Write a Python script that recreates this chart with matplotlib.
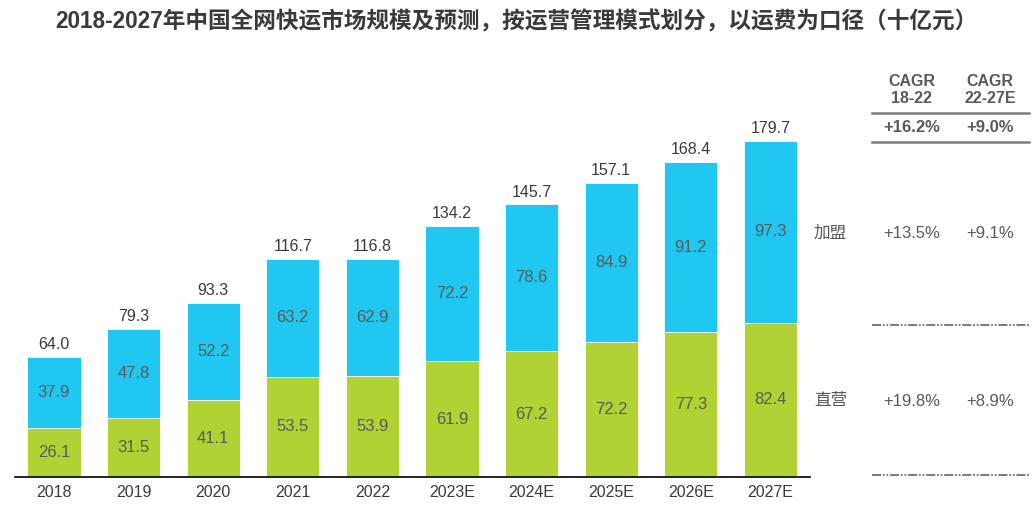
import numpy as np
import matplotlib
matplotlib.use("Agg")
import matplotlib.pyplot as plt
from matplotlib.lines import Line2D

plt.rcParams["font.family"] = ["Liberation Sans", "Noto Sans CJK SC", "DejaVu Sans"]

years = ["2018", "2019", "2020", "2021", "2022", "2023E", "2024E", "2025E", "2026E", "2027E"]
direct = [26.1, 31.5, 41.1, 53.5, 53.9, 61.9, 67.2, 72.2, 77.3, 82.4]
franchise = [37.9, 47.8, 52.2, 63.2, 62.9, 72.2, 78.6, 84.9, 91.2, 97.3]
totals = [64.0, 79.3, 93.3, 116.7, 116.8, 134.2, 145.7, 157.1, 168.4, 179.7]

cagr_heads = ["CAGR\n18-22", "CAGR\n22-27E"]
cagr_total = ["+16.2%", "+9.0%"]
cagr_franchise = ["+13.5%", "+9.1%"]
cagr_direct = ["+19.8%", "+8.9%"]
series_names = ["加盟", "直营"]

BLUE = "#20C8F1"
GREEN = "#B1D235"
TXT = "#595959"
DARK = "#3a3a3a"

W, H = 1033, 505
fig = plt.figure(figsize=(W / 100, H / 100), dpi=100)


def fx(px):
    return px / W


def fy(py):
    return 1 - py / H


# main bar axes: x from 15px to 810px, baseline at y=477px
ax_left, ax_right = 15, 810
ax_bottom, ax_top = 477, 100
ax = fig.add_axes([fx(ax_left), fy(ax_bottom), fx(ax_right - ax_left), (ax_bottom - ax_top) / H])
step = 79.6
c0 = 54
ax.set_xlim((ax_left - c0) / step, (ax_right - c0) / step)
ax.set_ylim(0, (ax_bottom - ax_top) / 1.87)

x = np.arange(len(years))
bw = 0.67
ax.bar(x, direct, bw, color=GREEN, edgecolor="white", linewidth=0.6)
ax.bar(x, franchise, bw, bottom=direct, color=BLUE, edgecolor="white", linewidth=0.6)

for i in range(len(years)):
    ax.text(x[i], direct[i] / 2, f"{direct[i]:.1f}", ha="center", va="center",
            fontsize=12, color=TXT)
    ax.text(x[i], direct[i] + franchise[i] / 2, f"{franchise[i]:.1f}", ha="center",
            va="center", fontsize=12, color=TXT)
    ax.annotate(f"{totals[i]:.1f}", (x[i], totals[i]), xytext=(0, 3.5),
                textcoords="offset points", ha="center", va="bottom",
                fontsize=11.5, color=DARK)

ax.set_xticks(x)
ax.set_xticklabels(years, fontsize=11.5, color=DARK)
ax.tick_params(axis="x", length=0, pad=6)
ax.set_yticks([])
for s in ["top", "right", "left"]:
    ax.spines[s].set_visible(False)
ax.spines["bottom"].set_color("black")
ax.spines["bottom"].set_linewidth(1.2)

# title
fig.text(0.5, fy(22), "2018-2027年中国全网快运市场规模及预测，按运营管理模式划分，以运费为口径（十亿元）",
         ha="center", va="center", fontsize=16.3, fontweight="bold", color=DARK)

# right-hand CAGR table
col_x = [912, 990]
for cx, head in zip(col_x, cagr_heads):
    fig.text(fx(cx), fy(90), head, ha="center", va="center", fontsize=11.5,
             fontweight="bold", color=TXT, linespacing=1.15)
for cx, v in zip(col_x, cagr_total):
    fig.text(fx(cx), fy(128), v, ha="center", va="center", fontsize=12,
             fontweight="bold", color=TXT)
for cx, v in zip(col_x, cagr_franchise):
    fig.text(fx(cx), fy(234), v, ha="center", va="center", fontsize=12, color=TXT)
for cx, v in zip(col_x, cagr_direct):
    fig.text(fx(cx), fy(401), v, ha="center", va="center", fontsize=12, color=TXT)
fig.text(fx(814), fy(233), series_names[0], ha="left", va="center", fontsize=12, color=TXT)
fig.text(fx(814), fy(401), series_names[1], ha="left", va="center", fontsize=12, color=TXT)

for yy in [113, 142]:
    fig.add_artist(Line2D([fx(872), fx(1029)], [fy(yy), fy(yy)], color="#7f7f7f", lw=1.8))
for yy in [325, 475]:
    fig.add_artist(Line2D([fx(872), fx(1029)], [fy(yy), fy(yy)], color="#6f6f6f", lw=1.3,
                          dashes=(5, 1, 1, 1, 1, 1)))

fig.savefig("out.png", dpi=100)
